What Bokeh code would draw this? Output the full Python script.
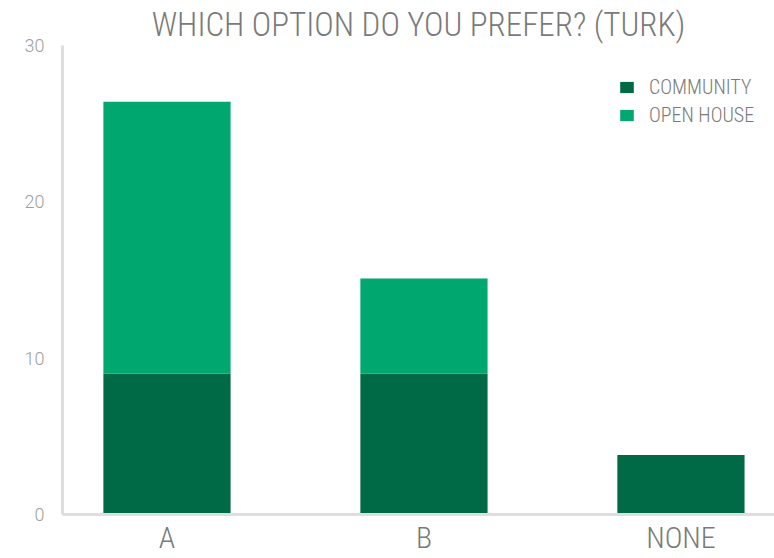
from bokeh.plotting import figure
from bokeh.models import Range1d, FixedTicker, ColumnDataSource, Title
from bokeh.embed import file_html
from bokeh.resources import INLINE

categories = ["A", "B", "NONE"]
series_names = ["COMMUNITY", "OPEN HOUSE"]
community = [9.0, 9.0, 3.8]
open_house = [17.4, 6.1, 0.0]
y_ticks = [0, 10, 20, 30]
colors = ["#006945", "#00a86f"]

FONT = "'Roboto Condensed Light', 'Roboto Condensed'"
TICK_FONT = "'Roboto Light', Roboto"

x = list(range(len(categories)))
src = ColumnDataSource(dict(x=x, community=community, open_house=open_house))

p = figure(width=774, height=558, output_backend="svg", toolbar_location=None,
           x_range=Range1d(-0.4066, 2.364), y_range=Range1d(0, 30),
           min_border_left=62, min_border_right=0, min_border_top=43, min_border_bottom=44)
p.outline_line_color = None
p.xgrid.visible = False
p.ygrid.visible = False

p.add_layout(Title(text="WHICH OPTION DO YOU PREFER? (TURK)", align="center",
                   text_font=FONT, text_font_size="33px", text_font_style="normal",
                   text_color="#7a7a7a", standoff=4), "above")

p.vbar_stack(["community", "open_house"], x="x", width=0.495, color=colors,
             source=src, legend_label=series_names, line_width=0)

for ax in (p.xaxis[0], p.yaxis[0]):
    ax.axis_line_color = "#dedede"
    ax.axis_line_width = 3
    ax.major_tick_line_color = None
    ax.minor_tick_line_color = None
    ax.major_tick_out = 0
    ax.major_tick_in = 0
    ax.minor_tick_out = 0
    ax.minor_tick_in = 0

p.yaxis.ticker = FixedTicker(ticks=y_ticks)
p.yaxis.major_label_text_font = TICK_FONT
p.yaxis.major_label_text_font_size = "18px"
p.yaxis.major_label_text_color = "#a0a0a0"
p.yaxis.major_label_standoff = 18

p.xaxis.ticker = FixedTicker(ticks=x)
p.xaxis.major_label_overrides = {i: c for i, c in enumerate(categories)}
p.xaxis.major_label_text_font = FONT
p.xaxis.major_label_text_font_size = "30px"
p.xaxis.major_label_text_color = "#7a7a7a"
p.xaxis.major_label_standoff = 5

lg = p.legend[0]
lg.location = (556, 387)
lg.border_line_color = None
lg.background_fill_alpha = 0
lg.padding = 0
lg.margin = 0
lg.spacing = 4
lg.glyph_width = 17
lg.glyph_height = 14
lg.label_height = 14
lg.label_standoff = 14
lg.label_text_font = FONT
lg.label_text_font_size = "20px"
lg.label_text_color = "#7a7a7a"

open("out.html", "w").write(file_html(p, INLINE))
